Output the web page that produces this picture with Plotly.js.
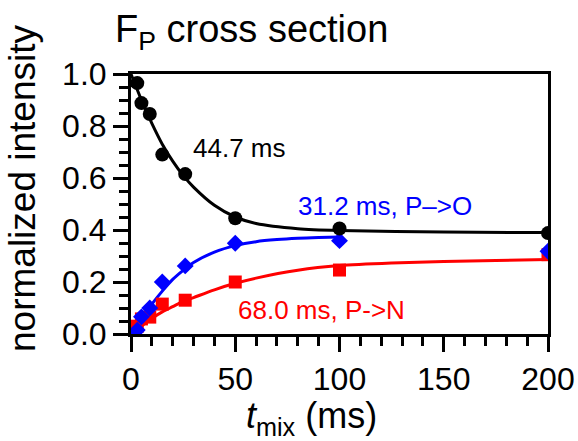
<!DOCTYPE html>
<html>
<head>
<meta charset="utf-8">
<script src="https://cdn.plot.ly/plotly-3.0.1.min.js"></script>
<style>html,body{margin:0;padding:0;background:#fff;}#chart{width:578px;height:441px;}</style>
</head>
<body>
<div id="chart"></div>
<script>
// measured data points
const tmix = [3, 5, 9, 15, 26, 50, 100, 200];
const fpIntensity = [0.965, 0.888, 0.846, 0.69, 0.615, 0.445, 0.406, 0.388];
const poIntensity = [0.015, 0.066, 0.10, 0.20, 0.262, 0.349, 0.359, 0.318];
const pnIntensity = [0.03, 0.058, 0.065, 0.115, 0.13, 0.20, 0.246, 0.305];

// fit curves
const fitT_FP = [0, 5, 10, 15, 20, 25, 30, 40, 50, 60, 80, 100, 150, 200];
const fitY_FP = [1.0, 0.90, 0.81, 0.73, 0.665, 0.61, 0.565, 0.495, 0.45, 0.425, 0.405, 0.398, 0.392, 0.39];
const fitT_PO = [0, 5, 10, 15, 20, 25, 30, 40, 50, 60, 70, 80, 90, 100];
const fitY_PO = [0, 0.06, 0.115, 0.165, 0.21, 0.245, 0.275, 0.315, 0.34, 0.355, 0.363, 0.368, 0.371, 0.373];
const fitT_PN = [0, 5, 10, 15, 20, 25, 30, 40, 50, 60, 80, 100, 125, 150, 175, 200];
const fitY_PN = [0, 0.03, 0.06, 0.085, 0.105, 0.125, 0.14, 0.17, 0.195, 0.215, 0.245, 0.263, 0.273, 0.279, 0.283, 0.287];

const labels = ["44.7 ms", "31.2 ms, P–>O", "68.0 ms, P->N"];
const xTicks = [0, 50, 100, 150, 200];
const yTicks = [0.0, 0.2, 0.4, 0.6, 0.8, 1.0];

const FONT = "Liberation Sans, Arial, sans-serif";
const lineTrace = (x, y, c) => ({x, y, mode: "lines", line: {color: c, width: 3, shape: "spline", smoothing: 0.8}, hoverinfo: "skip"});
const markTrace = (x, y, c, sym, sz) => ({x, y, mode: "markers", marker: {color: c, symbol: sym, size: sz}});

const data = [
  lineTrace(fitT_PN, fitY_PN, "#ff0000"),
  lineTrace(fitT_PO, fitY_PO, "#0000ff"),
  lineTrace(fitT_FP, fitY_FP, "#000000"),
  markTrace(tmix, pnIntensity, "#ff0000", "square", 13),
  markTrace(tmix, poIntensity, "#0000ff", "diamond", 13),
  markTrace(tmix, fpIntensity, "#000000", "circle", 14)
];

const axisCommon = {
  showgrid: false, zeroline: false, showline: true, linecolor: "#000", linewidth: 3,
  mirror: true, ticks: "outside", ticklen: 15, tickwidth: 3, tickcolor: "#000",
  tickfont: {family: FONT, size: 32, color: "#000"}
};

const PW = 578 - 131 - 30, PH = 441 - 74 - 107;

const layout = {
  width: 578, height: 441,
  margin: {l: 131, r: 30, t: 74, b: 107},
  paper_bgcolor: "#fff", plot_bgcolor: "#fff",
  showlegend: false,
  font: {family: FONT, color: "#000"},
  title: {text: "F<sub>P</sub> cross section", font: {family: FONT, size: 38, color: "#000"},
          x: 0.199, xanchor: "left", xref: "container", y: 0.935, yanchor: "middle", yref: "container"},
  xaxis: Object.assign({}, axisCommon, {range: [0, 200], tickvals: xTicks,
    minor: {dtick: 10, ticks: "outside", ticklen: 9, tickwidth: 3, tickcolor: "#000"}}),
  yaxis: Object.assign({}, axisCommon, {range: [0, 1.0], tickvals: yTicks, tickformat: ".1f",
    minor: {dtick: 0.05, ticks: "outside", ticklen: 9, tickwidth: 3, tickcolor: "#000"}}),
  annotations: [
    {text: labels[0], x: 28.8, y: 0.717, xref: "x", yref: "y", xanchor: "left", yanchor: "middle", showarrow: false, font: {family: FONT, size: 26, color: "#000"}},
    {text: labels[1], x: 79, y: 0.492, xref: "x", yref: "y", xanchor: "left", yanchor: "middle", showarrow: false, font: {family: FONT, size: 26, color: "#0000ff"}},
    {text: labels[2], x: 50.4, y: 0.092, xref: "x", yref: "y", xanchor: "left", yanchor: "middle", showarrow: false, font: {family: FONT, size: 26, color: "#ff0000"}},
    {text: "<i>t</i><sub>mix</sub> (ms)", x: (311 - 131) / PW, y: (441 - 107 - 418) / PH, xref: "paper", yref: "paper", xanchor: "center", yanchor: "middle", showarrow: false, font: {family: FONT, size: 36, color: "#000"}},
    {text: "normalized intensity", x: (22 - 131) / PW, y: (441 - 107 - 189) / PH, xref: "paper", yref: "paper", xanchor: "center", yanchor: "middle", textangle: -90, showarrow: false, font: {family: FONT, size: 37, color: "#000"}}
  ]
};

Plotly.newPlot("chart", data, layout, {displayModeBar: false, staticPlot: true});
</script>
</body>
</html>
